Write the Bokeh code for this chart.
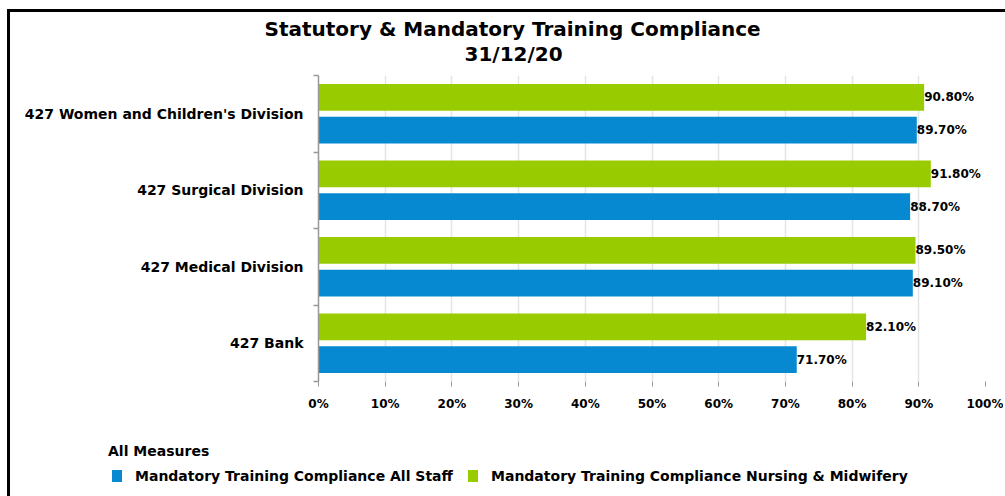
from bokeh.plotting import figure
from bokeh.models import (ColumnDataSource, Range1d, FixedTicker, PrintfTickFormatter,
                          Title, Div)
from bokeh.layouts import column
from bokeh.core.properties import value
from bokeh.embed import file_html
from bokeh.resources import INLINE

# ---- data ----
categories = ["427 Women and Children's Division", "427 Surgical Division",
              "427 Medical Division", "427 Bank"]
all_staff = [89.7, 88.7, 89.1, 71.7]
nursing_midwifery = [90.8, 91.8, 89.5, 82.1]
x_ticks = [0, 10, 20, 30, 40, 50, 60, 70, 80, 90, 100]
series_names = ["Mandatory Training Compliance All Staff",
                "Mandatory Training Compliance Nursing & Midwifery"]
title_line1 = "Statutory & Mandatory Training Compliance"
title_line2 = "31/12/20"
legend_title = "All Measures"

BLUE = "#0689d0"
GREEN = "#99cc00"
FONT = "DejaVu Sans"

n = len(categories)
centers = [n - 0.5 - i for i in range(n)]
offset = 0.215
bar_h = 0.35

src_blue = ColumnDataSource(dict(
    y=[c - offset for c in centers], x=all_staff,
    lab=[f"{v:.2f}%" for v in all_staff]))
src_green = ColumnDataSource(dict(
    y=[c + offset for c in centers], x=nursing_midwifery,
    lab=[f"{v:.2f}%" for v in nursing_midwifery]))

p = figure(width=993, height=419, output_backend="svg", toolbar_location=None,
           x_range=Range1d(0, 100), y_range=Range1d(0, n),
           min_border_left=308, min_border_right=18, min_border_top=63,
           min_border_bottom=50)
p.outline_line_color = None
p.background_fill_color = "white"
p.border_fill_color = "white"

r_blue = p.hbar(y="y", right="x", left=0, height=bar_h, source=src_blue,
                fill_color=BLUE, line_color=None)
r_green = p.hbar(y="y", right="x", left=0, height=bar_h, source=src_green,
                 fill_color=GREEN, line_color=None)

for src in (src_blue, src_green):
    p.text(x="x", y="y", text="lab", source=src, text_align="left",
           text_baseline="middle", text_font=value(FONT),
           text_font_style="bold", text_font_size="12px", text_color="black")

# x axis
xa = p.xaxis[0]
xa.ticker = FixedTicker(ticks=x_ticks)
xa.formatter = PrintfTickFormatter(format="%d%%")
xa.axis_line_color = None
xa.major_tick_out = 5
xa.major_tick_in = 0
xa.major_tick_line_color = "#999999"
xa.minor_tick_line_color = None
xa.major_label_standoff = 10
xa.major_label_text_font = FONT
xa.major_label_text_font_style = "bold"
xa.major_label_text_font_size = "12px"
xa.major_label_text_color = "black"

# y axis
ya = p.yaxis[0]
ya.ticker = FixedTicker(ticks=centers, minor_ticks=list(range(n + 1)))
ya.major_label_overrides = {c: categories[i] for i, c in enumerate(centers)}
ya.axis_line_color = "#999999"
ya.axis_line_width = 1.5
ya.major_tick_out = 0
ya.major_tick_in = 0
ya.minor_tick_out = 5
ya.minor_tick_in = 0
ya.minor_tick_line_color = "#999999"
ya.minor_tick_line_width = 1.5
ya.major_label_standoff = 10
ya.major_label_text_font = FONT
ya.major_label_text_font_style = "bold"
ya.major_label_text_font_size = "14px"
ya.major_label_text_color = "black"

p.ygrid.grid_line_color = None
p.xgrid.ticker = FixedTicker(ticks=x_ticks)
p.xgrid.grid_line_color = "#e4e4e4"
p.xgrid.grid_line_width = 1.5

# titles
t2 = Title(text=title_line2, align="left", offset=146, text_font=FONT,
           text_font_style="bold", text_font_size="20px", text_color="black",
           standoff=20)
t1 = Title(text=title_line1, align="left", offset=-54, text_font=FONT,
           text_font_style="bold", text_font_size="20px", text_color="black",
           standoff=-22)
p.add_layout(t2, "above")
p.add_layout(t1, "above")

# legend strip below the chart
sq = "display:inline-block;width:10px;height:12px;vertical-align:-1px;margin-right:13px;"
item_style = "position:absolute;top:32px;white-space:nowrap;line-height:17px;"
legend_html = (
    f'<div style="position:relative;width:993px;height:56px;'
    f'font-family:\'{FONT}\';font-weight:bold;font-size:14px;color:black;">'
    f'<div style="position:absolute;left:93px;top:7px;line-height:17px;">{legend_title}</div>'
    f'<div style="{item_style}left:97px;"><span style="{sq}background:{BLUE};"></span>'
    f'{series_names[0].replace("&", "&amp;")}</div>'
    f'<div style="{item_style}left:453px;"><span style="{sq}background:{GREEN};"></span>'
    f'{series_names[1].replace("&", "&amp;")}</div>'
    f'</div>'
)
legend_div = Div(text=legend_html, width=993, height=56)

layout = column(p, legend_div, spacing=0,
                styles={"border-top": "3px solid black",
                        "border-left": "3px solid black",
                        "margin-top": "9px", "margin-left": "7px"})

open("out.html", "w").write(file_html(layout, INLINE))
